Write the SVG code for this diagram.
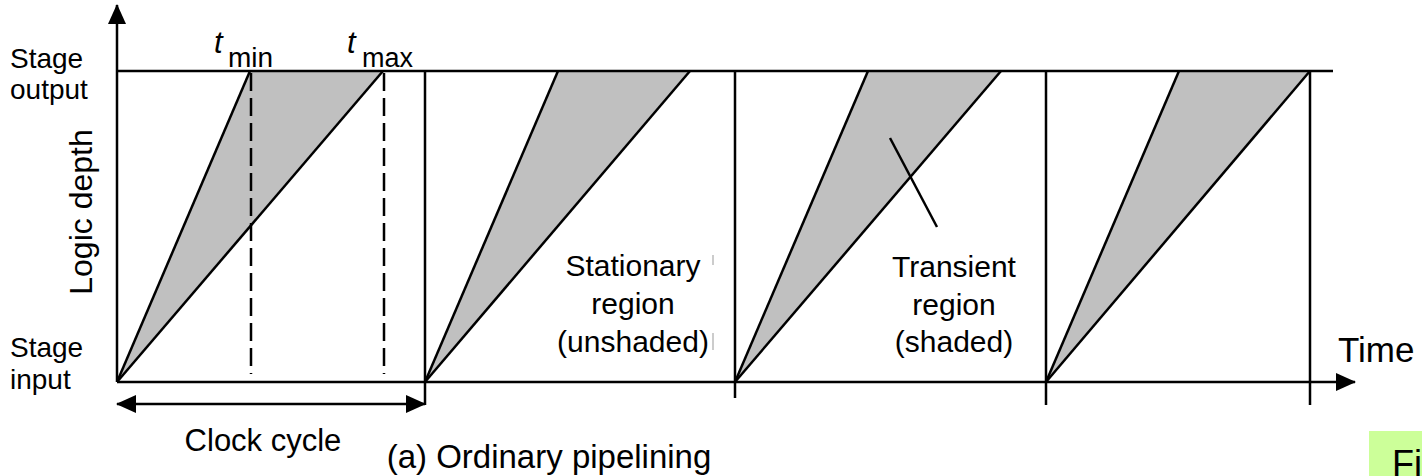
<svg xmlns="http://www.w3.org/2000/svg" width="1422" height="476" viewBox="0 0 1422 476">
  <style>
    text { font-family: "Liberation Sans", Arial, sans-serif; fill: #000; }
    .lbl { font-size: 30px; }
    .line { stroke: #000; stroke-width: 2.5; fill: none; }
    .dash { stroke: #000; stroke-width: 2.5; stroke-dasharray: 18 7; fill: none; }
    .shade { fill: #c0c0c0; stroke: none; }
  </style>
  <defs>
    <marker id="arrow" viewBox="0 0 20 18" refX="19" refY="9" markerWidth="20" markerHeight="18" markerUnits="userSpaceOnUse" orient="auto-start-reverse">
      <path d="M0,0 L20,9 L0,18 Z" fill="#000"/>
    </marker>
  </defs>
  <rect width="1422" height="476" fill="#fff"/>

  <!-- shaded transient wedges, one per pipeline stage -->
  <g id="wedges">
    <polygon class="shade" points="117,382 250,71 383,71"/>
    <polygon class="shade" points="425,382 558,71 690,71"/>
    <polygon class="shade" points="735,382 868,71 1001,71"/>
    <polygon class="shade" points="1046,382 1179,71 1310,71"/>
  </g>

  <!-- axes, stage boundaries and delay lines -->
  <g id="connectors">
    <line class="line" x1="117" y1="382" x2="117" y2="5" marker-end="url(#arrow)"/>
    <line class="line" x1="117" y1="382" x2="1355" y2="382" marker-end="url(#arrow)"/>
    <line class="line" x1="117" y1="71" x2="1333" y2="71"/>
    <!-- stage boundaries -->
    <line class="line" x1="425" y1="71" x2="425" y2="405"/>
    <line class="line" x1="735" y1="71" x2="735" y2="398"/>
    <line class="line" x1="1046" y1="71" x2="1046" y2="405"/>
    <line class="line" x1="1310" y1="71" x2="1310" y2="405"/>
    <!-- fastest and slowest paths -->
    <line class="line" x1="117" y1="382" x2="250" y2="71"/>
    <line class="line" x1="117" y1="382" x2="383" y2="71"/>
    <line class="line" x1="425" y1="382" x2="558" y2="71"/>
    <line class="line" x1="425" y1="382" x2="690" y2="71"/>
    <line class="line" x1="735" y1="382" x2="868" y2="71"/>
    <line class="line" x1="735" y1="382" x2="1001" y2="71"/>
    <line class="line" x1="1046" y1="382" x2="1179" y2="71"/>
    <line class="line" x1="1046" y1="382" x2="1310" y2="71"/>
    <!-- t_min / t_max markers -->
    <line class="dash" x1="251" y1="73" x2="251" y2="374"/>
    <line class="dash" x1="384" y1="73" x2="384" y2="374"/>
    <!-- clock cycle span -->
    <line class="line" x1="117" y1="404" x2="425" y2="404" marker-start="url(#arrow)" marker-end="url(#arrow)"/>
    <!-- pointer to shaded region -->
    <line class="line" x1="890" y1="138" x2="937" y2="227" stroke-width="2"/>
    <!-- clipped text-box edges -->
    <line x1="713" y1="255" x2="713" y2="265" stroke="#999" stroke-width="1"/>
    <line x1="713" y1="333" x2="713" y2="350" stroke="#999" stroke-width="1"/>
  </g>

  <g id="axis-labels">
    <text class="lbl" x="10" y="68" style="font-size:28px">Stage</text>
    <text class="lbl" x="10" y="99" style="font-size:28px">output</text>
    <text class="lbl" x="10" y="357" style="font-size:28px">Stage</text>
    <text class="lbl" x="10" y="389" style="font-size:28px">input</text>
    <text x="92" y="212" text-anchor="middle" transform="rotate(-90 92 212)" style="font-size:32px">Logic depth</text>
    <text x="1338" y="362" style="font-size:35px">Time</text>
  </g>

  <g id="tmin">
    <text x="214" y="53" style="font-size:31px;font-style:italic">t</text>
    <text x="228" y="67" style="font-size:28px">min</text>
  </g>
  <g id="tmax">
    <text x="347" y="53" style="font-size:31px;font-style:italic">t</text>
    <text x="362" y="67" style="font-size:27px">max</text>
  </g>

  <g id="stationary-label">
    <text class="lbl" x="633" y="276" text-anchor="middle">Stationary</text>
    <text class="lbl" x="633" y="314" text-anchor="middle">region</text>
    <text class="lbl" x="633" y="352" text-anchor="middle">(unshaded)</text>
  </g>

  <g id="transient-label">
    <text class="lbl" x="954" y="277" text-anchor="middle">Transient</text>
    <text class="lbl" x="954" y="315" text-anchor="middle">region</text>
    <text class="lbl" x="954" y="352" text-anchor="middle">(shaded)</text>
  </g>

  <g id="clock-label">
    <text x="263" y="451" text-anchor="middle" style="font-size:31px">Clock cycle</text>
  </g>

  <g id="caption">
    <text x="549" y="468" text-anchor="middle" style="font-size:33px">(a) Ordinary pipelining</text>
  </g>

  <g id="fig-tag">
    <rect x="1369" y="431" width="53" height="45" fill="#ccff99"/>
    <text x="1392" y="476" style="font-size:36px">Fi</text>
  </g>
</svg>
